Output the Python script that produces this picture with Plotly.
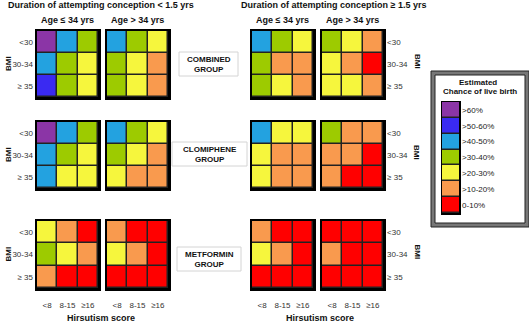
import plotly.graph_objects as go

W, H = 529, 324

hirsutism = ["<8", "8-15", "≥16"]
bmi = ["<30", "30-34", "≥ 35"]
durations = ["Duration of attempting conception < 1.5 yrs", "Duration of attempting conception ≥ 1.5 yrs"]
ages = ["Age ≤ 34 yrs", "Age > 34 yrs"]
groups = ["COMBINED<br>GROUP", "CLOMIPHENE<br>GROUP", "METFORMIN<br>GROUP"]
legend_labels = [">60%", ">50-60%", ">40-50%", ">30-40%", ">20-30%", ">10-20%", "0-10%"]
legend_levels = [6, 5, 4, 3, 2, 1, 0]
level_colors = ["#FF0000", "#F99A4E", "#F6F63D", "#9DCB00", "#23A2E0", "#3A2AF2", "#8B35A6"]

# chance-of-live-birth level (0 = 0-10% ... 6 = >60%), rows = BMI, cols = hirsutism
# panels: [<1.5 & age<=34, <1.5 & age>34, >=1.5 & age<=34, >=1.5 & age>34]
combined = [
    [[6, 4, 3], [4, 3, 2], [5, 3, 2]],
    [[4, 3, 2], [3, 2, 1], [3, 2, 1]],
    [[4, 3, 2], [3, 1, 1], [3, 2, 1]],
    [[3, 2, 1], [2, 1, 0], [2, 2, 1]],
]
clomiphene = [
    [[6, 4, 3], [4, 3, 2], [4, 2, 2]],
    [[4, 3, 2], [3, 2, 1], [2, 1, 1]],
    [[4, 2, 2], [2, 1, 1], [2, 1, 1]],
    [[3, 1, 1], [1, 1, 0], [1, 0, 0]],
]
metformin = [
    [[2, 1, 0], [3, 2, 1], [1, 0, 0]],
    [[1, 0, 0], [2, 1, 0], [0, 0, 0]],
    [[1, 0, 0], [2, 1, 0], [0, 0, 0]],
    [[0, 0, 0], [1, 0, 0], [0, 0, 0]],
]
all_groups = [combined, clomiphene, metformin]

# layout in pixels
panel_x = [(37, 98), (107, 168), (252, 313), (322, 383)]
row_y = [(31, 97), (122, 188), (221, 288)]

def px(x):
    return x / W

def py(y):
    return 1 - y / H

n = len(level_colors)
colorscale = []
for i, c in enumerate(level_colors):
    colorscale.append([i / n, c])
    colorscale.append([(i + 1) / n, c])

FONT = "Liberation Sans"
fig = go.Figure()
layout = {}
k = 0
for r, grp in enumerate(all_groups):
    for p, z in enumerate(grp):
        k += 1
        xa = "x" if k == 1 else f"x{k}"
        ya = "y" if k == 1 else f"y{k}"
        fig.add_trace(go.Heatmap(
            z=z, x=hirsutism, y=bmi, xaxis=xa, yaxis=ya,
            colorscale=colorscale, zmin=-0.5, zmax=6.5, showscale=False,
            xgap=1.5, ygap=1.5, hoverinfo="skip"))
        x0, x1 = panel_x[p]
        y0, y1 = row_y[r]
        xname = "xaxis" if k == 1 else f"xaxis{k}"
        yname = "yaxis" if k == 1 else f"yaxis{k}"
        layout[xname] = dict(
            domain=[px(x0), px(x1)], anchor=ya, showgrid=False, zeroline=False,
            showline=True, mirror=True, linecolor="black", linewidth=2.5,
            showticklabels=(r == 2), ticks="outside" if r == 2 else "",
            ticklen=8, tickcolor="rgba(0,0,0,0)",
            tickfont=dict(size=8, color="#333", family=FONT), fixedrange=True)
        show_y = (p == 0 or p == 3)
        layout[yname] = dict(
            domain=[py(y1), py(y0)], anchor=xa, showgrid=False, zeroline=False,
            showline=True, mirror=True, linecolor="black", linewidth=2.5,
            autorange="reversed", showticklabels=show_y,
            side="right" if p == 3 else "left",
            tickfont=dict(size=8, color="#333", family=FONT), fixedrange=True)

# legend swatches
k += 1
fig.add_trace(go.Heatmap(
    z=[[v] for v in legend_levels], x=[0], y=legend_labels,
    xaxis=f"x{k}", yaxis=f"y{k}", colorscale=colorscale, zmin=-0.5, zmax=6.5,
    showscale=False, xgap=0, ygap=1.5, hoverinfo="skip"))
layout[f"xaxis{k}"] = dict(domain=[px(442), px(459)], anchor=f"y{k}", showgrid=False,
                           zeroline=False, showticklabels=False, showline=True, mirror=True,
                           linecolor="black", linewidth=1.5, fixedrange=True)
layout[f"yaxis{k}"] = dict(domain=[py(213), py(102)], anchor=f"x{k}", showgrid=False,
                           zeroline=False, autorange="reversed", side="right",
                           showline=True, mirror=True, linecolor="black", linewidth=1.5,
                           tickfont=dict(size=8, color="#222", family=FONT), fixedrange=True)

ann = []
def text(x, y, s, size=9, bold=True, angle=0, color="#111"):
    ann.append(dict(x=px(x), y=py(y), xref="paper", yref="paper", text=f"<b>{s}</b>" if bold else s,
                    showarrow=False, textangle=angle, xanchor="center", yanchor="middle",
                    font=dict(size=size, color=color, family=FONT)))

text(101, 5, durations[0], size=9)
text(333, 5, durations[1], size=9)
for (x0, x1), i in zip(panel_x, [0, 1, 0, 1]):
    text((x0 + x1) / 2, 20, ages[i], size=9)
text(101, 318, "Hirsutism score", size=9)
text(320, 318, "Hirsutism score", size=9)
for (y0, y1) in row_y:
    text(8, (y0 + y1) / 2, "BMI", size=8, angle=-90)
    text(417, (y0 + y1) / 2 - 3, "BMI", size=8, angle=90)

boxes = [(179, 238, 52, 76), (172, 247, 142, 166), (177, 241, 247, 271)]
shapes = []
for (x0, x1, y0, y1), g in zip(boxes, groups):
    shapes.append(dict(type="rect", xref="paper", yref="paper", x0=px(x0), x1=px(x1),
                       y0=py(y1), y1=py(y0), line=dict(color="#d4d4d4", width=1)))
    text((x0 + x1) / 2, (y0 + y1) / 2, g, size=8)

# legend frame
shapes.append(dict(type="rect", xref="paper", yref="paper", x0=px(433), x1=px(527),
                   y0=py(225), y1=py(73), line=dict(color="#777", width=4)))
for d in (-2, 2):
    shapes.append(dict(type="rect", xref="paper", yref="paper", x0=px(433 - d), x1=px(527 + d),
                       y0=py(225 + d), y1=py(73 - d), line=dict(color="#222", width=1)))
text(478, 82, "Estimated", size=8)
text(480, 91, "Chance of live birth", size=8)

fig.update_layout(width=W, height=H, margin=dict(l=0, r=0, t=0, b=0),
                  paper_bgcolor="white", plot_bgcolor="#222",
                  annotations=ann, shapes=shapes, **layout)
fig.write_html("out.html", config={"displayModeBar": False, "staticPlot": True},
               post_script="document.body.style.margin='0';document.body.style.padding='0';")
